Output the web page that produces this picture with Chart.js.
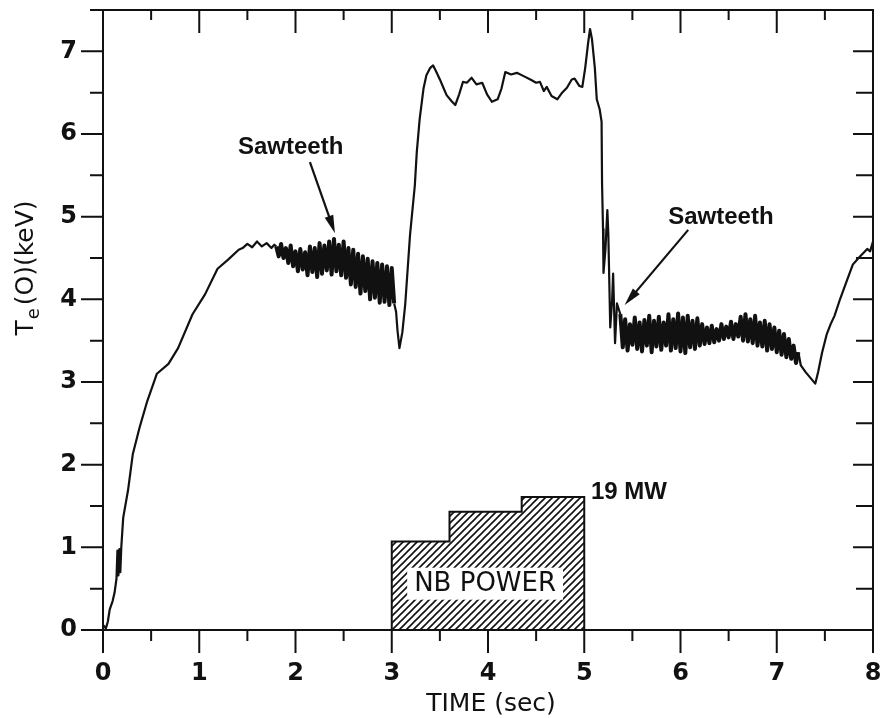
<!DOCTYPE html>
<html>
<head>
<meta charset="utf-8">
<title>Central electron temperature</title>
<script src="https://cdn.jsdelivr.net/npm/chart.js@4.4.0/dist/chart.umd.min.js"></script>
<style>
  html, body { margin: 0; padding: 0; background: #fff; }
  canvas { display: block; }
</style>
</head>
<body>
<canvas id="teChart" width="885" height="718"></canvas>
<script>
// Ohmic ramp-up
const rampTime = [0.00, 0.03, 0.05, 0.07, 0.10, 0.12, 0.14, 0.15, 0.16, 0.17, 0.18, 0.19, 0.21, 0.26, 0.31, 0.38, 0.46, 0.56, 0.68, 0.78, 0.93, 1.06, 1.19, 1.30, 1.41, 1.45, 1.50, 1.55, 1.60, 1.65, 1.70, 1.75, 1.78];
const rampTemp = [0.06, 0.02, 0.10, 0.25, 0.35, 0.45, 0.62, 0.96, 0.66, 0.98, 0.70, 1.00, 1.36, 1.69, 2.13, 2.45, 2.77, 3.10, 3.22, 3.41, 3.82, 4.06, 4.37, 4.48, 4.60, 4.62, 4.67, 4.63, 4.70, 4.64, 4.68, 4.62, 4.66];

// Ohmic sawtooth phase before beam injection
const band1Time = [1.800, 1.825, 1.850, 1.875, 1.900, 1.925, 1.950, 1.975, 2.000, 2.025,
  2.050, 2.075, 2.100, 2.125, 2.150, 2.175, 2.200, 2.225, 2.250, 2.275,
  2.300, 2.325, 2.350, 2.375, 2.400, 2.425, 2.450, 2.475, 2.500, 2.525,
  2.550, 2.575, 2.600, 2.625, 2.650, 2.675, 2.700, 2.725, 2.750, 2.775,
  2.800, 2.825, 2.850, 2.875, 2.900, 2.925, 2.950, 2.975, 3.000, 3.025];
const band1Temp = [4.64, 4.52, 4.67, 4.50, 4.62, 4.44, 4.65, 4.40, 4.58, 4.34,
  4.61, 4.36, 4.57, 4.29, 4.64, 4.33, 4.62, 4.27, 4.68, 4.31,
  4.65, 4.35, 4.70, 4.30, 4.73, 4.34, 4.66, 4.29, 4.70, 4.26,
  4.62, 4.18, 4.60, 4.15, 4.55, 4.07, 4.52, 4.10, 4.49, 4.00,
  4.46, 4.02, 4.44, 3.96, 4.42, 3.97, 4.40, 3.93, 4.38, 3.95];

// Neutral beam heating (sawtooth-free)
const heatTime = [3.045, 3.06, 3.08, 3.11, 3.14, 3.19, 3.24, 3.26, 3.29, 3.33,
  3.36, 3.40, 3.43, 3.46, 3.50, 3.54, 3.57, 3.62, 3.66, 3.70,
  3.74, 3.78, 3.83, 3.88, 3.94, 3.99, 4.04, 4.10, 4.14, 4.18,
  4.24, 4.30, 4.37, 4.44, 4.50, 4.54, 4.58, 4.61, 4.66, 4.72,
  4.77, 4.82, 4.87, 4.90, 4.95, 4.98, 5.01, 5.04, 5.06, 5.08,
  5.11, 5.13, 5.16, 5.18];
const heatTemp = [3.85, 3.62, 3.41, 3.60, 3.94, 4.78, 5.38, 5.78, 6.18, 6.55,
  6.71, 6.80, 6.83, 6.76, 6.66, 6.55, 6.47, 6.40, 6.35, 6.48,
  6.63, 6.62, 6.68, 6.60, 6.62, 6.48, 6.39, 6.42, 6.55, 6.75,
  6.72, 6.74, 6.70, 6.66, 6.62, 6.63, 6.52, 6.57, 6.46, 6.42,
  6.50, 6.56, 6.66, 6.67, 6.58, 6.57, 6.80, 7.10, 7.27, 7.15,
  6.80, 6.42, 6.30, 6.15];

// Collapse after the beams switch off
const collapseTime = [5.185, 5.195, 5.20, 5.22, 5.24, 5.25, 5.27, 5.29, 5.30, 5.32, 5.34];
const collapseTemp = [5.40, 4.85, 4.32, 4.60, 5.08, 4.80, 3.66, 4.00, 4.31, 3.47, 3.95];

// Ohmic sawtooth phase after injection
const band2Time = [5.375, 5.400, 5.425, 5.450, 5.475, 5.500, 5.525, 5.550, 5.575, 5.600,
  5.625, 5.650, 5.675, 5.700, 5.725, 5.750, 5.775, 5.800, 5.825, 5.850,
  5.875, 5.900, 5.925, 5.950, 5.975, 6.000, 6.025, 6.050, 6.075, 6.100,
  6.125, 6.150, 6.175, 6.200, 6.225, 6.250, 6.275, 6.300, 6.325, 6.350,
  6.375, 6.400, 6.425, 6.450, 6.475, 6.500, 6.525, 6.550, 6.575, 6.600,
  6.625, 6.650, 6.675, 6.700, 6.725, 6.750, 6.775, 6.800, 6.825, 6.850,
  6.875, 6.900, 6.925, 6.950, 6.975, 7.000, 7.025, 7.050, 7.075, 7.100,
  7.125, 7.150, 7.175, 7.200, 7.225];
const band2Temp = [3.82, 3.42, 3.76, 3.38, 3.70, 3.45, 3.78, 3.40, 3.72, 3.37,
  3.75, 3.44, 3.80, 3.36, 3.74, 3.43, 3.79, 3.39, 3.72, 3.44,
  3.82, 3.38, 3.76, 3.41, 3.83, 3.37, 3.78, 3.35, 3.80, 3.42,
  3.74, 3.40, 3.77, 3.44, 3.70, 3.46, 3.66, 3.47, 3.68, 3.48,
  3.64, 3.50, 3.70, 3.52, 3.67, 3.54, 3.73, 3.52, 3.70, 3.55,
  3.79, 3.50, 3.82, 3.49, 3.76, 3.47, 3.80, 3.44, 3.72, 3.43,
  3.74, 3.38, 3.70, 3.40, 3.66, 3.36, 3.62, 3.33, 3.58, 3.30,
  3.52, 3.28, 3.44, 3.23, 3.36];

// Final rise
const recoveryTime = [7.25, 7.30, 7.35, 7.40, 7.43, 7.47, 7.52, 7.56, 7.60, 7.66, 7.72, 7.79, 7.85, 7.90, 7.94, 7.97, 8.00];
const recoveryTemp = [3.20, 3.12, 3.05, 2.98, 3.12, 3.35, 3.58, 3.70, 3.80, 4.01, 4.20, 4.42, 4.50, 4.56, 4.61, 4.58, 4.70];

// Neutral beam power steps (drawn on the temperature scale)
const nbTime = [3.0, 3.0, 3.6, 4.35, 5.0, 5.0];
const nbLevel = [0, 1.07, 1.43, 1.61, 1.61, 0];

// Axis ticks
const xTicks = [0, 1, 2, 3, 4, 5, 6, 7, 8];
const yTicks = [0, 1, 2, 3, 4, 5, 6, 7];

const time = [].concat(rampTime, band1Time, heatTime, collapseTime, band2Time, recoveryTime);
const temp = [].concat(rampTemp, band1Temp, heatTemp, collapseTemp, band2Temp, recoveryTemp);

const INK = "#111111";
const SANS = '"DejaVu Sans", sans-serif';
const ARIAL = '"Liberation Sans", Arial, sans-serif';

// Labels and arrows, in data units
const notes = [
  { text: "Sawteeth", x: 1.95, y: 5.84, from: [2.15, 5.66], to: [2.41, 4.80] },
  { text: "Sawteeth", x: 6.42, y: 4.99, from: [6.08, 4.84], to: [5.42, 3.93] },
];

function inBand(t) {
  return (t >= band1Time[0] && t <= band1Time[band1Time.length - 1]) ||
    (t >= band2Time[0] && t <= band2Time[band2Time.length - 1]);
}

function makeHatch() {
  const size = 7;
  const tile = document.createElement("canvas");
  tile.width = size;
  tile.height = size;
  const g = tile.getContext("2d");
  g.strokeStyle = INK;
  g.lineWidth = 1.6;
  g.beginPath();
  g.moveTo(0, size);
  g.lineTo(size, 0);
  g.moveTo(-1, 1);
  g.lineTo(1, -1);
  g.moveTo(size - 1, size + 1);
  g.lineTo(size + 1, size - 1);
  g.stroke();
  return g.createPattern(tile, "repeat");
}

function drawArrow(ctx, x1, y1, x2, y2) {
  const ang = Math.atan2(y2 - y1, x2 - x1);
  const head = 18;
  const half = 4.5;
  ctx.beginPath();
  ctx.moveTo(x1, y1);
  ctx.lineTo(x2 - head * 0.6 * Math.cos(ang), y2 - head * 0.6 * Math.sin(ang));
  ctx.stroke();
  ctx.beginPath();
  ctx.moveTo(x2, y2);
  ctx.lineTo(x2 - head * Math.cos(ang) + half * Math.sin(ang), y2 - head * Math.sin(ang) - half * Math.cos(ang));
  ctx.lineTo(x2 - head * Math.cos(ang) - half * Math.sin(ang), y2 - head * Math.sin(ang) + half * Math.cos(ang));
  ctx.closePath();
  ctx.fill();
}

// Frame, mirrored tick marks, axis titles and text labels
const decorations = {
  id: "decorations",
  afterDatasetsDraw(chart) {
    const ctx = chart.ctx;
    const xs = chart.scales.x;
    const ys = chart.scales.y;
    const area = chart.chartArea;

    ctx.save();
    ctx.strokeStyle = INK;
    ctx.fillStyle = INK;
    ctx.lineWidth = 2;
    ctx.strokeRect(area.left, area.top, area.right - area.left, area.bottom - area.top);

    ctx.beginPath();
    for (let v = 0; v <= 8; v += 0.5) {
      const px = xs.getPixelForValue(v);
      const major = Number.isInteger(v);
      ctx.moveTo(px, area.bottom);
      ctx.lineTo(px, area.bottom + (major ? 23 : 11));
      ctx.moveTo(px, area.top);
      ctx.lineTo(px, area.top + (major ? 23 : 10));
    }
    for (let v = 0; v <= 7.5; v += 0.5) {
      const py = ys.getPixelForValue(v);
      const major = Number.isInteger(v);
      ctx.moveTo(area.left, py);
      ctx.lineTo(area.left - (major ? 22 : 13), py);
      ctx.moveTo(area.right, py);
      ctx.lineTo(area.right - (major ? 20 : 17), py);
    }
    ctx.stroke();

    // "NB POWER" on a white patch over the hatching
    ctx.font = "26px " + SANS;
    ctx.textAlign = "center";
    ctx.textBaseline = "middle";
    const nbx = xs.getPixelForValue(3.97);
    const nby = ys.getPixelForValue(0.56);
    const w = ctx.measureText("NB POWER").width;
    ctx.fillStyle = "#fff";
    ctx.fillRect(nbx - w / 2 - 7, nby - 16, w + 14, 32);
    ctx.fillStyle = INK;
    ctx.fillText("NB POWER", nbx, nby + 1);

    ctx.font = "bold 24px " + ARIAL;
    ctx.textAlign = "left";
    ctx.fillText("19 MW", xs.getPixelForValue(5.07), ys.getPixelForValue(1.66));

    ctx.lineWidth = 2.2;
    notes.forEach((n) => {
      ctx.textAlign = "center";
      ctx.fillText(n.text, xs.getPixelForValue(n.x), ys.getPixelForValue(n.y));
      drawArrow(ctx,
        xs.getPixelForValue(n.from[0]), ys.getPixelForValue(n.from[1]),
        xs.getPixelForValue(n.to[0]), ys.getPixelForValue(n.to[1]));
    });

    // X axis title
    ctx.font = "25px " + SANS;
    ctx.textAlign = "center";
    ctx.fillText("TIME (sec)", (area.left + area.right) / 2 + 3, 704);

    // Y axis title with subscript
    ctx.translate(24, 268);
    ctx.rotate(-Math.PI / 2);
    ctx.textAlign = "left";
    ctx.textBaseline = "alphabetic";
    const big = "25px " + SANS;
    const small = "18px " + SANS;
    ctx.font = big;
    const wT = ctx.measureText("T").width;
    const wRest = ctx.measureText("(O)(keV)").width;
    ctx.font = small;
    const wE = ctx.measureText("e").width;
    let cx = -(wT + wE + wRest + 4) / 2;
    ctx.font = big;
    ctx.fillText("T", cx, 9);
    cx += wT + 1;
    ctx.font = small;
    ctx.fillText("e", cx, 15);
    cx += wE + 3;
    ctx.font = big;
    ctx.fillText("(O)(keV)", cx, 9);
    ctx.restore();
  },
};

new Chart(document.getElementById("teChart"), {
  type: "line",
  data: {
    datasets: [
      {
        label: "NB power",
        data: nbTime.map((t, i) => ({ x: t, y: nbLevel[i] })),
        stepped: "before",
        borderColor: INK,
        borderWidth: 2,
        backgroundColor: makeHatch(),
        fill: "origin",
        pointRadius: 0,
      },
      {
        label: "Te(0)",
        data: time.map((t, i) => ({ x: t, y: temp[i] })),
        borderColor: INK,
        borderWidth: 2.2,
        borderJoinStyle: "round",
        pointRadius: 0,
        tension: 0,
        fill: false,
        segment: {
          // thick trace where the sawteeth are dense
          borderWidth: (c) => (inBand(c.p0.parsed.x) && inBand(c.p1.parsed.x) ? 4 : 2.2),
        },
      },
    ],
  },
  options: {
    responsive: false,
    animation: false,
    layout: { padding: { top: 10, right: 12, left: 0, bottom: 0 } },
    plugins: {
      legend: { display: false },
      tooltip: { enabled: false },
    },
    scales: {
      x: {
        type: "linear",
        min: 0,
        max: 8,
        grid: { display: false, drawTicks: false },
        border: { display: false },
        afterBuildTicks: (scale) => {
          scale.ticks = xTicks.map((v) => ({ value: v }));
        },
        afterFit: (scale) => {
          scale.height = 88;
          scale.paddingLeft = 0;
          scale.paddingRight = 0;
        },
        ticks: {
          color: INK,
          font: { family: SANS, size: 24, weight: "bold" },
          padding: 29,
          maxRotation: 0,
          autoSkip: false,
        },
      },
      y: {
        type: "linear",
        min: 0,
        max: 7.5,
        grid: { display: false, drawTicks: false },
        border: { display: false },
        afterBuildTicks: (scale) => {
          scale.ticks = yTicks.map((v) => ({ value: v }));
        },
        afterFit: (scale) => {
          scale.width = 103;
          scale.paddingTop = 0;
          scale.paddingBottom = 0;
        },
        ticks: {
          color: INK,
          font: { family: SANS, size: 24, weight: "bold" },
          padding: 26,
          autoSkip: false,
        },
      },
    },
  },
  plugins: [decorations],
});
</script>
</body>
</html>
